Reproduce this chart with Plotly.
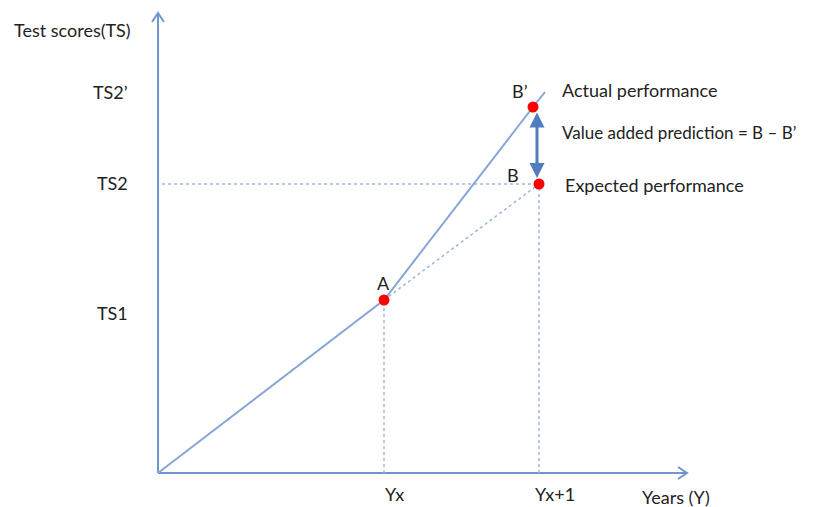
import plotly.graph_objects as go

# ---- diagram values (data units: origin at the axes' corner) ----
origin = (0, 0)
axis_x_end = 529
axis_y_end = 460
point_names = ["A", "B", "B’"]
point_x = [226, 381, 375]
point_y = [173, 289, 366]
trend_end = (387, 381)           # end of the solid line beyond B’
ts_labels = ["TS2’", "TS2", "TS1"]
ts_label_y = [381, 290, 160]
year_labels = ["Yx", "Yx+1"]
year_label_x = [236, 397]
ts2_level = 289

AXIS = "#7096cf"
LINE = "#86a6d8"
DOT = "#9db6de"
TXT = "#222222"
FONT = "Lato"
FS = 18

fig = go.Figure()

def line(xs, ys, color, width, dash="solid"):
    fig.add_trace(go.Scatter(x=xs, y=ys, mode="lines",
                             line=dict(color=color, width=width, dash=dash),
                             hoverinfo="skip", showlegend=False))

A = (point_x[0], point_y[0])
B = (point_x[1], point_y[1])
Bp = (point_x[2], point_y[2])

# axes
line([origin[0], origin[0]], [origin[1], axis_y_end], AXIS, 2)
line([origin[0], axis_x_end], [origin[1], origin[1]], AXIS, 2)
# open chevron arrow heads
hs = 9
line([origin[0] - 6, origin[0], origin[0] + 6],
     [axis_y_end - hs, axis_y_end, axis_y_end - hs], AXIS, 2)
line([axis_x_end - hs, axis_x_end, axis_x_end - hs],
     [origin[1] + 6, origin[1], origin[1] - 6], AXIS, 2)

# dotted guides
line([4, B[0]], [ts2_level, ts2_level], DOT, 1.5, "dot")
line([A[0], A[0]], [0, A[1]], DOT, 1.5, "dot")
line([B[0], B[0]], [0, B[1]], DOT, 1.5, "dot")
line([A[0], B[0]], [A[1], B[1]], DOT, 1.5, "dot")

# solid growth line
line([origin[0], A[0], Bp[0], trend_end[0]],
     [origin[1], A[1], Bp[1], trend_end[1]], LINE, 2)

# double arrow between B’ and B
fig.add_annotation(x=(Bp[0] + B[0]) / 2 + 1, y=B[1] + 6,
                   ax=(Bp[0] + B[0]) / 2 + 1, ay=Bp[1] - 4,
                   xref="x", yref="y", axref="x", ayref="y",
                   text="", showarrow=True, arrowhead=2, startarrowhead=2,
                   arrowside="end+start", arrowsize=1, startarrowsize=1,
                   arrowwidth=3, arrowcolor="#4f7dbf")

# points
fig.add_trace(go.Scatter(x=point_x, y=point_y, mode="markers",
                         marker=dict(color="#ff0000", size=11,
                                     line=dict(width=0)),
                         hoverinfo="skip", showlegend=False))

def text(x, y, s, anchor="center", size=FS):
    fig.add_annotation(x=x, y=y, xref="x", yref="y", text=s, showarrow=False,
                       xanchor=anchor, yanchor="middle",
                       font=dict(family=FONT, size=size, color=TXT))

text(-146, 443, "Test scores(TS)", "left")
for s, yy in zip(ts_labels, ts_label_y):
    text(-28, yy, s, "right")
for s, xx in zip(year_labels, year_label_x):
    text(xx, -21, s)
text(518, -24, "Years (Y)")
text(362, 382, "B’")
text(225, 190, "A")
text(355, 298, "B")
text(402, 383, "Actual performance", "left")
text(402, 341, "Value added prediction = B – B’", "left", 17)
text(405, 288, "Expected performance", "left")

# the page body adds an 8px offset, so the ranges are shifted to compensate
fig.update_layout(
    width=818, height=507,
    margin=dict(l=0, r=0, t=0, b=0),
    paper_bgcolor="white", plot_bgcolor="white",
    xaxis=dict(range=[-150, 668], visible=False, fixedrange=True),
    yaxis=dict(range=[-42, 465], visible=False, fixedrange=True),
)

fig.write_html("out.html")
